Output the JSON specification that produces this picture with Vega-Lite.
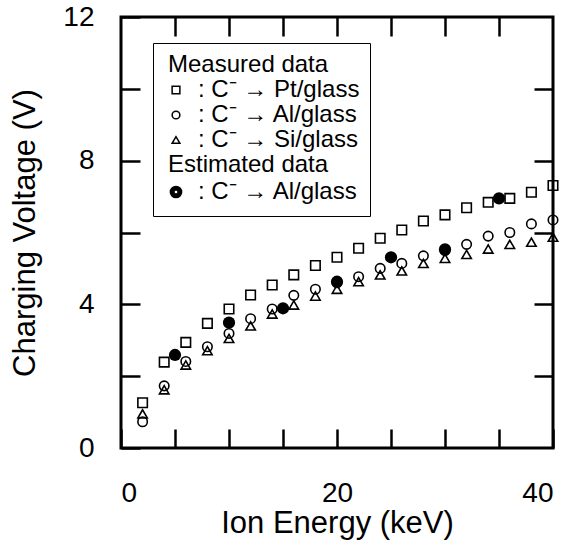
{
  "$schema": "https://vega.github.io/schema/vega-lite/v6.json",
  "autosize": "none",
  "width": 432,
  "height": 431,
  "padding": {"left": 121, "top": 17, "right": 14, "bottom": 94},
  "background": "white",
  "config": {
    "font": "Liberation Sans",
    "view": {"stroke": "black", "strokeWidth": 3},
    "axis": {"grid": false, "domain": false, "tickColor": "black", "tickWidth": 2.5, "tickSize": -19, "labelColor": "black", "titleColor": "black", "labelFont": "Liberation Sans", "titleFont": "Liberation Sans", "titleFontWeight": "normal", "labelFontSize": 28, "titleFontSize": 31},
    "legend": {"labelLimit": 400}
  },
  "datasets": {
    "measured": [
      {"E": 2, "V": 1.26, "series": "Pt"}, {"E": 4, "V": 2.39, "series": "Pt"}, {"E": 6, "V": 2.94, "series": "Pt"}, {"E": 8, "V": 3.47, "series": "Pt"}, {"E": 10, "V": 3.87, "series": "Pt"}, {"E": 12, "V": 4.26, "series": "Pt"}, {"E": 14, "V": 4.54, "series": "Pt"}, {"E": 16, "V": 4.82, "series": "Pt"}, {"E": 18, "V": 5.08, "series": "Pt"}, {"E": 20, "V": 5.31, "series": "Pt"}, {"E": 22, "V": 5.56, "series": "Pt"}, {"E": 24, "V": 5.84, "series": "Pt"}, {"E": 26, "V": 6.07, "series": "Pt"}, {"E": 28, "V": 6.32, "series": "Pt"}, {"E": 30, "V": 6.49, "series": "Pt"}, {"E": 32, "V": 6.69, "series": "Pt"}, {"E": 34, "V": 6.84, "series": "Pt"}, {"E": 36, "V": 6.95, "series": "Pt"}, {"E": 38, "V": 7.12, "series": "Pt"}, {"E": 40, "V": 7.31, "series": "Pt"},
      {"E": 2, "V": 0.73, "series": "Al"}, {"E": 4, "V": 1.73, "series": "Al"}, {"E": 6, "V": 2.41, "series": "Al"}, {"E": 8, "V": 2.82, "series": "Al"}, {"E": 10, "V": 3.19, "series": "Al"}, {"E": 12, "V": 3.6, "series": "Al"}, {"E": 14, "V": 3.87, "series": "Al"}, {"E": 16, "V": 4.25, "series": "Al"}, {"E": 18, "V": 4.42, "series": "Al"}, {"E": 20, "V": 4.6, "series": "Al"}, {"E": 22, "V": 4.77, "series": "Al"}, {"E": 24, "V": 5.0, "series": "Al"}, {"E": 26, "V": 5.14, "series": "Al"}, {"E": 28, "V": 5.35, "series": "Al"}, {"E": 30, "V": 5.5, "series": "Al"}, {"E": 32, "V": 5.67, "series": "Al"}, {"E": 34, "V": 5.9, "series": "Al"}, {"E": 36, "V": 6.0, "series": "Al"}, {"E": 38, "V": 6.24, "series": "Al"}, {"E": 40, "V": 6.35, "series": "Al"},
      {"E": 2, "V": 0.95, "series": "Si"}, {"E": 4, "V": 1.62, "series": "Si"}, {"E": 6, "V": 2.31, "series": "Si"}, {"E": 8, "V": 2.71, "series": "Si"}, {"E": 10, "V": 3.05, "series": "Si"}, {"E": 12, "V": 3.4, "series": "Si"}, {"E": 14, "V": 3.73, "series": "Si"}, {"E": 16, "V": 3.98, "series": "Si"}, {"E": 18, "V": 4.23, "series": "Si"}, {"E": 20, "V": 4.42, "series": "Si"}, {"E": 22, "V": 4.63, "series": "Si"}, {"E": 24, "V": 4.82, "series": "Si"}, {"E": 26, "V": 4.93, "series": "Si"}, {"E": 28, "V": 5.14, "series": "Si"}, {"E": 30, "V": 5.28, "series": "Si"}, {"E": 32, "V": 5.39, "series": "Si"}, {"E": 34, "V": 5.54, "series": "Si"}, {"E": 36, "V": 5.67, "series": "Si"}, {"E": 38, "V": 5.73, "series": "Si"}, {"E": 40, "V": 5.87, "series": "Si"}
    ],
    "estimated": [
      {"E": 5, "V": 2.59, "series": "Al est"}, {"E": 10, "V": 3.49, "series": "Al est"}, {"E": 15, "V": 3.89, "series": "Al est"}, {"E": 20, "V": 4.63, "series": "Al est"}, {"E": 25, "V": 5.31, "series": "Al est"}, {"E": 30, "V": 5.53, "series": "Al est"}, {"E": 35, "V": 6.95, "series": "Al est"}
    ]
  },
  "layer": [
    {
      "data": {"name": "measured"},
      "mark": {"type": "point", "filled": false, "color": "black", "strokeWidth": 1.6, "size": 90, "opacity": 1},
      "encoding": {
        "x": {"field": "E", "type": "quantitative", "scale": {"domain": [0, 40], "nice": false, "zero": false}, "axis": {"orient": "bottom", "values": [0, 5, 10, 15, 20, 25, 30, 35, 40], "labelExpr": "datum.value % 20 === 0 ? datum.label : ''", "labelPadding": 50, "title": "Ion Energy (keV)", "titlePadding": 1}},
        "y": {"field": "V", "type": "quantitative", "scale": {"domain": [0, 12], "nice": false}, "axis": {"orient": "left", "values": [0, 2, 4, 6, 8, 10, 12], "labelExpr": "datum.value % 4 === 0 ? datum.label : ''", "labelPadding": 46, "title": "Charging Voltage (V)", "titlePadding": 21}},
        "shape": {
          "field": "series", "type": "nominal",
          "scale": {"domain": ["Measured data", "Pt", "Al", "Si", "Estimated data", "Al est"], "range": ["circle", "square", "circle", "triangle-up", "circle", "circle"]},
          "legend": {
            "title": null, "orient": "none", "legendX": 32, "legendY": 26,
            "strokeColor": "black", "fillColor": "white", "padding": 10,
            "labelFont": "Liberation Sans", "labelFontSize": 24, "labelColor": "black", "rowPadding": 1, "labelLimit": 400,
            "labelOffset": {"expr": "datum.value === 'Measured data' || datum.value === 'Estimated data' ? -20 : 10"},
            "symbolSize": 60, "symbolOffset": 1, "symbolStrokeColor": "black",
            "symbolStrokeWidth": {"expr": "datum.value === 'Al est' ? 5 : 1.5"},
            "symbolFillColor": {"expr": "datum.value === 'Al est' ? 'black' : 'white'"},
            "symbolOpacity": {"expr": "datum.value === 'Measured data' || datum.value === 'Estimated data' ? 0 : 1"},
            "labelExpr": "datum.label === 'Measured data' || datum.label === 'Estimated data' ? datum.label : ': C⁻ → ' + (datum.label === 'Pt' ? 'Pt' : datum.label === 'Si' ? 'Si' : 'Al') + '/glass'"
          }
        }
      }
    },
    {
      "data": {"name": "estimated"},
      "mark": {"type": "point", "filled": true, "color": "black", "size": 150, "opacity": 1},
      "encoding": {
        "x": {"field": "E", "type": "quantitative", "axis": {"orient": "top", "values": [5, 10, 15, 20, 25, 30, 35], "labels": false, "title": null}},
        "y": {"field": "V", "type": "quantitative", "axis": {"orient": "right", "values": [2, 4, 6, 8, 10], "labels": false, "title": null}},
        "shape": {"field": "series", "type": "nominal"}
      }
    }
  ],
  "resolve": {"axis": {"x": "independent", "y": "independent"}}
}
